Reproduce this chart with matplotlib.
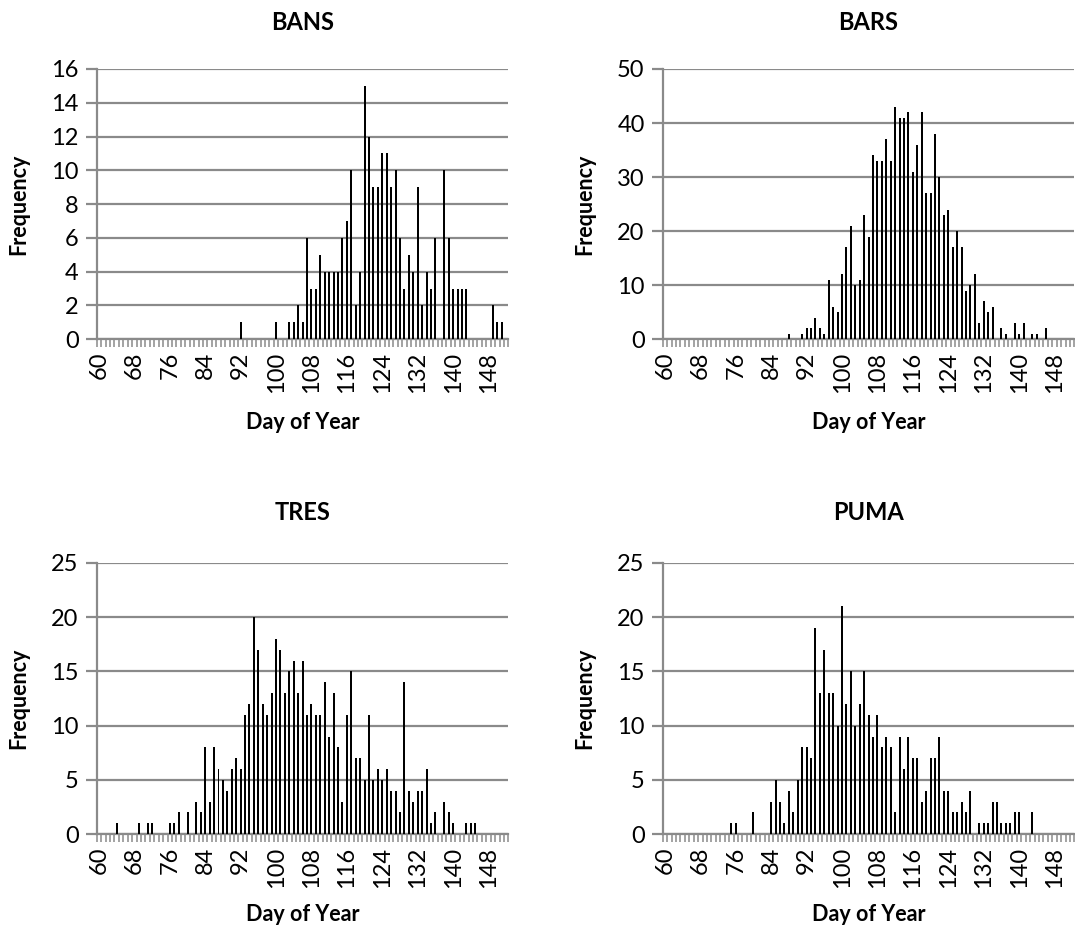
import numpy as np
import matplotlib.pyplot as plt

plt.rcParams['font.family'] = ['Lato', 'DejaVu Sans']

# day of year categories shown on every panel
days = np.arange(60, 153)
tick_days = np.arange(60, 149, 8)

# counts per day, one row per block of 8 days (60-67, 68-75, ...)
bans = [0, 0, 0, 0, 0, 0, 0, 0,
        0, 0, 0, 0, 0, 0, 0, 0,
        0, 0, 0, 0, 0, 0, 0, 0,
        0, 0, 0, 0, 0, 0, 0, 0,
        1, 0, 0, 0, 0, 0, 0, 0,
        1, 0, 0, 1, 1, 2, 1, 6,
        3, 3, 5, 4, 4, 4, 4, 6,
        7, 10, 2, 4, 15, 12, 9, 9,
        11, 11, 9, 10, 6, 3, 5, 4,
        9, 2, 4, 3, 6, 0, 10, 6,
        3, 3, 3, 3, 0, 0, 0, 0,
        0, 2, 1, 1, 0]

bars = [0, 0, 0, 0, 0, 0, 0, 0,
        0, 0, 0, 0, 0, 0, 0, 0,
        0, 0, 0, 0, 0, 0, 0, 0,
        0, 0, 0, 0, 1, 0, 0, 1,
        2, 2, 4, 2, 1, 11, 6, 5,
        12, 17, 21, 10, 11, 23, 19, 34,
        33, 33, 37, 33, 43, 41, 41, 42,
        31, 36, 42, 27, 27, 38, 30, 23,
        24, 17, 20, 17, 9, 10, 12, 3,
        7, 5, 6, 0, 2, 1, 0, 3,
        1, 3, 0, 1, 1, 0, 2, 0,
        0, 0, 0, 0, 0]

tres = [0, 0, 0, 0, 1, 0, 0, 0,
        0, 1, 0, 1, 1, 0, 0, 0,
        1, 1, 2, 0, 2, 0, 3, 2,
        8, 3, 8, 6, 5, 4, 6, 7,
        6, 11, 12, 20, 17, 12, 11, 13,
        18, 17, 13, 15, 16, 13, 16, 11,
        12, 11, 11, 14, 9, 13, 8, 3,
        11, 15, 7, 7, 5, 11, 5, 6,
        5, 6, 4, 4, 2, 14, 4, 3,
        4, 4, 6, 1, 2, 0, 3, 2,
        1, 0, 0, 1, 1, 1, 0, 0,
        0, 0, 0, 0, 0]

puma = [0, 0, 0, 0, 0, 0, 0, 0,
        0, 0, 0, 0, 0, 0, 0, 1,
        1, 0, 0, 0, 2, 0, 0, 0,
        3, 5, 3, 1, 4, 2, 5, 8,
        8, 7, 19, 13, 17, 13, 13, 10,
        21, 12, 15, 10, 12, 15, 11, 9,
        11, 8, 9, 8, 2, 9, 6, 9,
        7, 7, 3, 4, 7, 7, 9, 4,
        4, 2, 2, 3, 2, 4, 0, 1,
        1, 1, 3, 3, 1, 1, 1, 2,
        2, 0, 0, 2, 0, 0, 0, 0,
        0, 0, 0, 0, 0]

panels = [
    ('BANS', bans, 16, 2),
    ('BARS', bars, 50, 10),
    ('TRES', tres, 25, 5),
    ('PUMA', puma, 25, 5),
]

# axes boxes in figure fractions: left, bottom, width, height
boxes = [
    [0.090, 0.636, 0.383, 0.290],
    [0.6165, 0.636, 0.383, 0.290],
    [0.090, 0.105, 0.383, 0.291],
    [0.6165, 0.105, 0.383, 0.291],
]
title_y = [0.976, 0.976, 0.450, 0.450]
xlabel_y = [0.547, 0.547, 0.019, 0.019]
ylabel_x = [0.017, 0.544, 0.017, 0.544]

grey = '#8a8a8a'

fig = plt.figure(figsize=(10.75, 9.32), dpi=100)

for (name, counts, ymax, ystep), box, ty, xy, yx in zip(panels, boxes, title_y, xlabel_y, ylabel_x):
    ax = fig.add_axes(box)
    ax.bar(days, counts, width=0.45, color='black', zorder=3)
    ax.set_xlim(59.5, 152.5)
    ax.set_ylim(0, ymax)
    ax.set_yticks(np.arange(0, ymax + 1, ystep))
    ax.set_xticks(tick_days)
    ax.set_xticks(np.arange(59.5, 153, 1), minor=True)
    ax.yaxis.grid(True, color=grey, lw=1.6)
    ax.set_axisbelow(True)
    for s in ['top', 'right']:
        ax.spines[s].set_visible(False)
    for s in ['left', 'bottom']:
        ax.spines[s].set_color(grey)
        ax.spines[s].set_linewidth(1.6)
    ax.tick_params(axis='y', length=8, width=1.6, color=grey, labelsize=17, pad=5)
    ax.tick_params(axis='x', which='major', length=0, labelsize=17, rotation=90, pad=9)
    ax.tick_params(axis='x', which='minor', length=6, width=1.1, color=grey, direction='out')

    cx = box[0] + box[2] / 2
    fig.text(cx, ty, name, ha='center', va='center', fontsize=17, fontweight='bold')
    fig.text(cx, xy, 'Day of Year', ha='center', va='center', fontsize=15.5, fontweight='bold')
    fig.text(yx, box[1] + box[3] / 2, 'Frequency', ha='center', va='center',
             rotation=90, fontsize=15.5, fontweight='bold')

fig.savefig('out.png', dpi=100)
